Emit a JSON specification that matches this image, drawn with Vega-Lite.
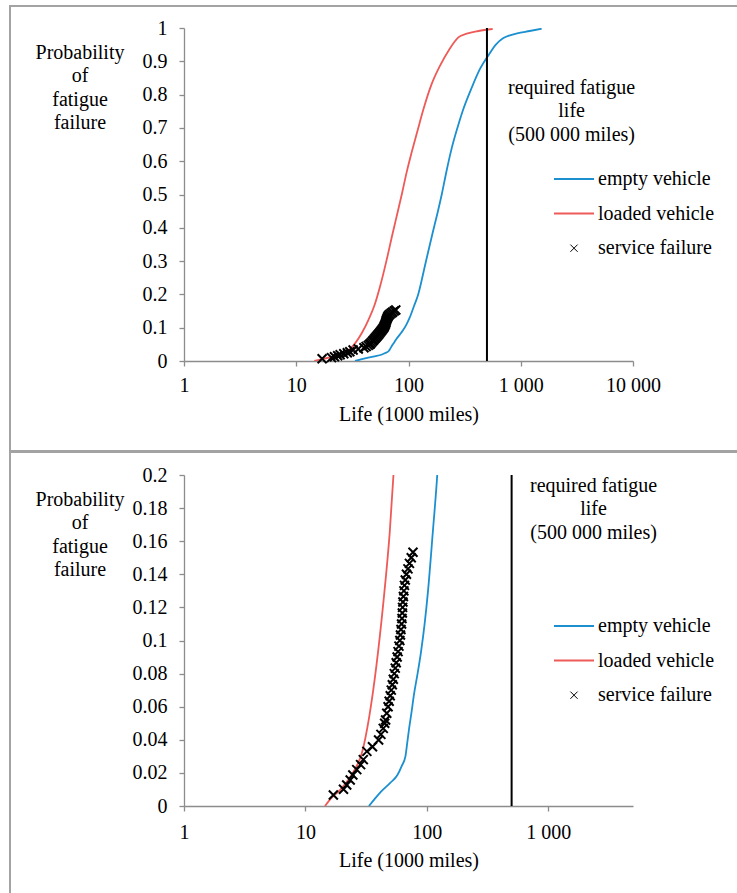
{
  "$schema": "https://vega.github.io/schema/vega-lite/v6.json",
  "padding": {"left": 9, "top": 5, "right": 0, "bottom": 0},
  "background": "white",
  "config": {
    "view": {"stroke": null},
    "font": "Liberation Serif",
    "axis": {"grid": false, "domainColor": "#8c8c8c", "tickColor": "#8c8c8c", "tickSize": 5, "domainWidth": 1.3, "tickWidth": 1.3,
      "labelFont": "Liberation Serif", "labelFontSize": 20, "labelColor": "#000000",
      "titleFont": "Liberation Serif", "titleFontSize": 20, "titleFontWeight": "normal", "titleColor": "#000000",
      "labelOverlap": false, "labelFlush": false}
  },
  "datasets": {
    "curves": [
      {"series": "empty vehicle", "life": 33.4, "p": 0},
      {"series": "empty vehicle", "life": 37, "p": 0.004},
      {"series": "empty vehicle", "life": 42, "p": 0.0087},
      {"series": "empty vehicle", "life": 50, "p": 0.014},
      {"series": "empty vehicle", "life": 57.3, "p": 0.0187},
      {"series": "empty vehicle", "life": 62, "p": 0.024},
      {"series": "empty vehicle", "life": 66.7, "p": 0.03},
      {"series": "empty vehicle", "life": 69, "p": 0.038},
      {"series": "empty vehicle", "life": 71.6, "p": 0.047},
      {"series": "empty vehicle", "life": 75, "p": 0.057},
      {"series": "empty vehicle", "life": 78.3, "p": 0.067},
      {"series": "empty vehicle", "life": 84, "p": 0.08},
      {"series": "empty vehicle", "life": 89.6, "p": 0.093},
      {"series": "empty vehicle", "life": 96, "p": 0.11},
      {"series": "empty vehicle", "life": 102.4, "p": 0.13},
      {"series": "empty vehicle", "life": 112, "p": 0.165},
      {"series": "empty vehicle", "life": 122, "p": 0.2},
      {"series": "empty vehicle", "life": 141.6, "p": 0.293},
      {"series": "empty vehicle", "life": 163.6, "p": 0.383},
      {"series": "empty vehicle", "life": 180, "p": 0.44},
      {"series": "empty vehicle", "life": 198.6, "p": 0.503},
      {"series": "empty vehicle", "life": 218, "p": 0.57},
      {"series": "empty vehicle", "life": 240.6, "p": 0.634},
      {"series": "empty vehicle", "life": 270, "p": 0.695},
      {"series": "empty vehicle", "life": 306, "p": 0.754},
      {"series": "empty vehicle", "life": 365, "p": 0.82},
      {"series": "empty vehicle", "life": 429, "p": 0.874},
      {"series": "empty vehicle", "life": 520, "p": 0.92},
      {"series": "empty vehicle", "life": 600, "p": 0.95},
      {"series": "empty vehicle", "life": 695, "p": 0.969},
      {"series": "empty vehicle", "life": 800, "p": 0.978},
      {"series": "empty vehicle", "life": 929, "p": 0.984},
      {"series": "empty vehicle", "life": 1200, "p": 0.991},
      {"series": "empty vehicle", "life": 1535, "p": 0.998},
      {"series": "loaded vehicle", "life": 14.5, "p": 0},
      {"series": "loaded vehicle", "life": 16.5, "p": 0.005},
      {"series": "loaded vehicle", "life": 19.5, "p": 0.01},
      {"series": "loaded vehicle", "life": 22.5, "p": 0.0157},
      {"series": "loaded vehicle", "life": 25.5, "p": 0.022},
      {"series": "loaded vehicle", "life": 29.2, "p": 0.032},
      {"series": "loaded vehicle", "life": 33.4, "p": 0.053},
      {"series": "loaded vehicle", "life": 38.5, "p": 0.085},
      {"series": "loaded vehicle", "life": 43.9, "p": 0.123},
      {"series": "loaded vehicle", "life": 49.5, "p": 0.165},
      {"series": "loaded vehicle", "life": 55.7, "p": 0.223},
      {"series": "loaded vehicle", "life": 63.5, "p": 0.3},
      {"series": "loaded vehicle", "life": 72.2, "p": 0.383},
      {"series": "loaded vehicle", "life": 77.0, "p": 0.423},
      {"series": "loaded vehicle", "life": 87.5, "p": 0.503},
      {"series": "loaded vehicle", "life": 96, "p": 0.565},
      {"series": "loaded vehicle", "life": 106, "p": 0.623},
      {"series": "loaded vehicle", "life": 120, "p": 0.69},
      {"series": "loaded vehicle", "life": 135, "p": 0.753},
      {"series": "loaded vehicle", "life": 160, "p": 0.83},
      {"series": "loaded vehicle", "life": 189, "p": 0.884},
      {"series": "loaded vehicle", "life": 230, "p": 0.935},
      {"series": "loaded vehicle", "life": 278, "p": 0.972},
      {"series": "loaded vehicle", "life": 330, "p": 0.983},
      {"series": "loaded vehicle", "life": 420, "p": 0.991},
      {"series": "loaded vehicle", "life": 562, "p": 0.997}
    ],
    "failures": [
      {"series": "service failure", "life": 17.0, "p": 0.0066},
      {"series": "service failure", "life": 20.6, "p": 0.0101},
      {"series": "service failure", "life": 21.9, "p": 0.0127},
      {"series": "service failure", "life": 23.4, "p": 0.0157},
      {"series": "service failure", "life": 24.6, "p": 0.0187},
      {"series": "service failure", "life": 26.5, "p": 0.022},
      {"series": "service failure", "life": 28.5, "p": 0.025},
      {"series": "service failure", "life": 30, "p": 0.028},
      {"series": "service failure", "life": 32.1, "p": 0.033},
      {"series": "service failure", "life": 35.7, "p": 0.0358},
      {"series": "service failure", "life": 40.1, "p": 0.0399},
      {"series": "service failure", "life": 41.9, "p": 0.0433},
      {"series": "service failure", "life": 43.8, "p": 0.0469},
      {"series": "service failure", "life": 45.0, "p": 0.05},
      {"series": "service failure", "life": 45.8, "p": 0.052},
      {"series": "service failure", "life": 46.8, "p": 0.056},
      {"series": "service failure", "life": 48.0, "p": 0.06},
      {"series": "service failure", "life": 49, "p": 0.0633},
      {"series": "service failure", "life": 50, "p": 0.0666},
      {"series": "service failure", "life": 51, "p": 0.07},
      {"series": "service failure", "life": 52, "p": 0.0733},
      {"series": "service failure", "life": 53, "p": 0.0766},
      {"series": "service failure", "life": 54, "p": 0.08},
      {"series": "service failure", "life": 55, "p": 0.0833},
      {"series": "service failure", "life": 56, "p": 0.0866},
      {"series": "service failure", "life": 57, "p": 0.09},
      {"series": "service failure", "life": 58, "p": 0.0933},
      {"series": "service failure", "life": 59, "p": 0.0966},
      {"series": "service failure", "life": 60, "p": 0.1},
      {"series": "service failure", "life": 60.7, "p": 0.1033},
      {"series": "service failure", "life": 61.3, "p": 0.1066},
      {"series": "service failure", "life": 62, "p": 0.11},
      {"series": "service failure", "life": 62.5, "p": 0.1133},
      {"series": "service failure", "life": 62.9, "p": 0.1166},
      {"series": "service failure", "life": 63.2, "p": 0.12},
      {"series": "service failure", "life": 63.6, "p": 0.1233},
      {"series": "service failure", "life": 64.2, "p": 0.1266},
      {"series": "service failure", "life": 64.8, "p": 0.13},
      {"series": "service failure", "life": 65.5, "p": 0.1333},
      {"series": "service failure", "life": 66.5, "p": 0.1366},
      {"series": "service failure", "life": 68, "p": 0.14},
      {"series": "service failure", "life": 70, "p": 0.1433},
      {"series": "service failure", "life": 72, "p": 0.1466},
      {"series": "service failure", "life": 74.5, "p": 0.15},
      {"series": "service failure", "life": 77, "p": 0.1533}
    ]
  },
  "columns": 3,
  "spacing": 0,
  "bounds": "flush",
  "resolve": {"scale": {"color": "independent"}, "legend": {"color": "independent"}},
  "concat": [
    {"data": {"values": []}, "mark": {"type": "rule"}, "encoding": {}, "width": 2, "height": 2, "view": {"fill": "#a3a3a3", "stroke": null}},
    {"data": {"values": []}, "mark": {"type": "rule"}, "encoding": {}, "width": 173, "height": 2, "view": {"fill": "#a3a3a3", "stroke": null}},
    {"data": {"values": []}, "mark": {"type": "rule"}, "encoding": {}, "width": 553, "height": 2, "view": {"fill": "#a3a3a3", "stroke": null}},

    {"data": {"values": []}, "mark": {"type": "rule"}, "encoding": {}, "width": 2, "height": 21, "view": {"fill": "#a3a3a3", "stroke": null}},
    {"data": {"values": []}, "mark": {"type": "rule"}, "encoding": {}, "width": 173, "height": 21, "view": {"stroke": null}},
    {"data": {"values": []}, "mark": {"type": "rule"}, "encoding": {}, "width": 553, "height": 21, "view": {"stroke": null}},

    {"data": {"values": []}, "mark": {"type": "rule"}, "encoding": {}, "width": 2, "height": 333, "view": {"fill": "#a3a3a3", "stroke": null}},
    {"data": {"values": []}, "mark": {"type": "rule"}, "encoding": {}, "width": 173, "height": 333, "view": {"stroke": null}},
    {
      "width": 449,
      "height": 333,
      "layer": [
        {
          "data": {"name": "curves"},
          "mark": {"type": "line", "strokeWidth": 1.8, "clip": true, "interpolate": "monotone"},
          "encoding": {
            "x": {"field": "life", "type": "quantitative", "scale": {"type": "log", "domain": [1, 10000], "nice": false},
              "axis": {"values": [1, 10, 100, 1000, 10000], "labelExpr": "replace(format(datum.value, ','), ',', ' ')", "labelPadding": 9, "labelOverlap": false,
                "title": "Life (1000 miles)", "titleY": 59, "titleBaseline": "alphabetic"}},
            "y": {"field": "p", "type": "quantitative", "scale": {"domain": [0, 1], "nice": false, "zero": false},
              "axis": {"values": [0, 0.1, 0.2, 0.3, 0.4, 0.5, 0.6, 0.7, 0.8, 0.9, 1], "tickCount": 11, "format": "~g", "labelPadding": 12, "labelOverlap": false,
                "title": ["Probability", "of", "fatigue", "failure"], "titleAngle": 0, "titleAlign": "center", "titleBaseline": "top",
                "titleX": -104.5, "titleY": 14, "titleLineHeight": 23.5}},
            "color": {"field": "series", "type": "nominal",
              "scale": {"domain": ["empty vehicle", "loaded vehicle", "service failure"], "range": ["#1b8fcf", "#ee5a57", "#000000"]},
              "legend": {"orient": "none", "legendX": 380, "legendY": 141, "title": null, "padding": 0,
                "symbolType": "stroke", "symbolSize": 1600, "symbolStrokeWidth": 2,
                "labelFont": "Liberation Serif", "labelFontSize": 20, "labelColor": "#000000", "labelOffset": 14, "rowPadding": 14.6,
                "encode": {"symbols": {"update": {
                  "shape": {"signal": "datum.value === 'service failure' ? 'M-0.18,-0.18L0.18,0.18M-0.18,0.18L0.18,-0.18' : 'stroke'"},
                  "stroke": {"signal": "datum.value === 'service failure' ? '#8a8a8a' : datum.value === 'empty vehicle' ? '#1b8fcf' : '#ee5a57'"},
                  "strokeWidth": {"signal": "datum.value === 'service failure' ? 1 : 2"}}}}}}
          }
        },
        {
          "data": {"name": "failures"},
          "mark": {"type": "point", "shape": "M-1,-1L1,1M-1,1L1,-1", "size": 81, "strokeWidth": 2, "filled": false, "opacity": 1},
          "encoding": {
            "x": {"field": "life", "type": "quantitative"},
            "y": {"field": "p", "type": "quantitative"},
            "color": {"field": "series", "type": "nominal", "legend": null}
          }
        },
        {
          "data": {"values": [{"life": 500}]},
          "mark": {"type": "rule", "color": "#000000", "strokeWidth": 2},
          "encoding": {"x": {"field": "life", "type": "quantitative"}}
        },
        {
          "data": {"values": [{"label": "required fatigue\nlife\n(500 000 miles)"}]},
          "mark": {"type": "text", "lineBreak": "\n", "align": "center", "baseline": "top", "fontSize": 20, "font": "Liberation Serif", "lineHeight": 23.5, "color": "#000000"},
          "encoding": {"x": {"datum": 2840}, "y": {"datum": 0.85}, "text": {"field": "label"}}
        }
      ]
    },

    {"data": {"values": []}, "mark": {"type": "rule"}, "encoding": {}, "width": 2, "height": 89, "view": {"fill": "#a3a3a3", "stroke": null}},
    {"data": {"values": []}, "mark": {"type": "rule"}, "encoding": {}, "width": 173, "height": 89, "view": {"stroke": null}},
    {"data": {"values": []}, "mark": {"type": "rule"}, "encoding": {}, "width": 553, "height": 89, "view": {"stroke": null}},

    {"data": {"values": []}, "mark": {"type": "rule"}, "encoding": {}, "width": 2, "height": 3, "view": {"fill": "#a3a3a3", "stroke": null}},
    {"data": {"values": []}, "mark": {"type": "rule"}, "encoding": {}, "width": 173, "height": 3, "view": {"fill": "#a3a3a3", "stroke": null}},
    {"data": {"values": []}, "mark": {"type": "rule"}, "encoding": {}, "width": 553, "height": 3, "view": {"fill": "#a3a3a3", "stroke": null}},

    {"data": {"values": []}, "mark": {"type": "rule"}, "encoding": {}, "width": 2, "height": 22, "view": {"fill": "#a3a3a3", "stroke": null}},
    {"data": {"values": []}, "mark": {"type": "rule"}, "encoding": {}, "width": 173, "height": 22, "view": {"stroke": null}},
    {"data": {"values": []}, "mark": {"type": "rule"}, "encoding": {}, "width": 553, "height": 22, "view": {"stroke": null}},

    {"data": {"values": []}, "mark": {"type": "rule"}, "encoding": {}, "width": 2, "height": 331, "view": {"fill": "#a3a3a3", "stroke": null}},
    {"data": {"values": []}, "mark": {"type": "rule"}, "encoding": {}, "width": 173, "height": 331, "view": {"stroke": null}},
    {
      "width": 449,
      "height": 331,
      "layer": [
        {
          "data": {"name": "curves"},
          "mark": {"type": "line", "strokeWidth": 1.8, "clip": true, "interpolate": "monotone"},
          "encoding": {
            "x": {"field": "life", "type": "quantitative", "scale": {"type": "log", "domain": [1, 5000], "nice": false},
              "axis": {"values": [1, 10, 100, 1000], "labelExpr": "replace(format(datum.value, ','), ',', ' ')", "labelPadding": 11, "labelOverlap": false,
                "title": "Life (1000 miles)", "titleY": 60, "titleBaseline": "alphabetic"}},
            "y": {"field": "p", "type": "quantitative", "scale": {"domain": [0, 0.2], "nice": false, "zero": false},
              "axis": {"values": [0, 0.02, 0.04, 0.06, 0.08, 0.1, 0.12, 0.14, 0.16, 0.18, 0.2], "tickCount": 11, "format": "~g", "labelPadding": 12, "labelOverlap": false,
                "title": ["Probability", "of", "fatigue", "failure"], "titleAngle": 0, "titleAlign": "center", "titleBaseline": "top",
                "titleX": -104.5, "titleY": 14, "titleLineHeight": 23.5}},
            "color": {"field": "series", "type": "nominal",
              "scale": {"domain": ["empty vehicle", "loaded vehicle", "service failure"], "range": ["#1b8fcf", "#ee5a57", "#000000"]},
              "legend": {"orient": "none", "legendX": 380, "legendY": 141, "title": null, "padding": 0,
                "symbolType": "stroke", "symbolSize": 1600, "symbolStrokeWidth": 2,
                "labelFont": "Liberation Serif", "labelFontSize": 20, "labelColor": "#000000", "labelOffset": 14, "rowPadding": 14.6,
                "encode": {"symbols": {"update": {
                  "shape": {"signal": "datum.value === 'service failure' ? 'M-0.18,-0.18L0.18,0.18M-0.18,0.18L0.18,-0.18' : 'stroke'"},
                  "stroke": {"signal": "datum.value === 'service failure' ? '#8a8a8a' : datum.value === 'empty vehicle' ? '#1b8fcf' : '#ee5a57'"},
                  "strokeWidth": {"signal": "datum.value === 'service failure' ? 1 : 2"}}}}}}
          }
        },
        {
          "data": {"name": "failures"},
          "mark": {"type": "point", "shape": "M-1,-1L1,1M-1,1L1,-1", "size": 81, "strokeWidth": 2, "filled": false, "opacity": 1},
          "encoding": {
            "x": {"field": "life", "type": "quantitative"},
            "y": {"field": "p", "type": "quantitative"},
            "color": {"field": "series", "type": "nominal", "legend": null}
          }
        },
        {
          "data": {"values": [{"life": 500}]},
          "mark": {"type": "rule", "color": "#000000", "strokeWidth": 2},
          "encoding": {"x": {"field": "life", "type": "quantitative"}}
        },
        {
          "data": {"values": [{"label": "required fatigue\nlife\n(500 000 miles)"}]},
          "mark": {"type": "text", "lineBreak": "\n", "align": "center", "baseline": "top", "fontSize": 20, "font": "Liberation Serif", "lineHeight": 23.5, "color": "#000000"},
          "encoding": {"x": {"datum": 2367}, "y": {"datum": 0.1994}, "text": {"field": "label"}}
        }
      ]
    },

    {"data": {"values": []}, "mark": {"type": "rule"}, "encoding": {}, "width": 2, "height": 87, "view": {"fill": "#a3a3a3", "stroke": null}},
    {"data": {"values": []}, "mark": {"type": "rule"}, "encoding": {}, "width": 173, "height": 87, "view": {"stroke": null}},
    {"data": {"values": []}, "mark": {"type": "rule"}, "encoding": {}, "width": 553, "height": 87, "view": {"stroke": null}}
  ]
}
